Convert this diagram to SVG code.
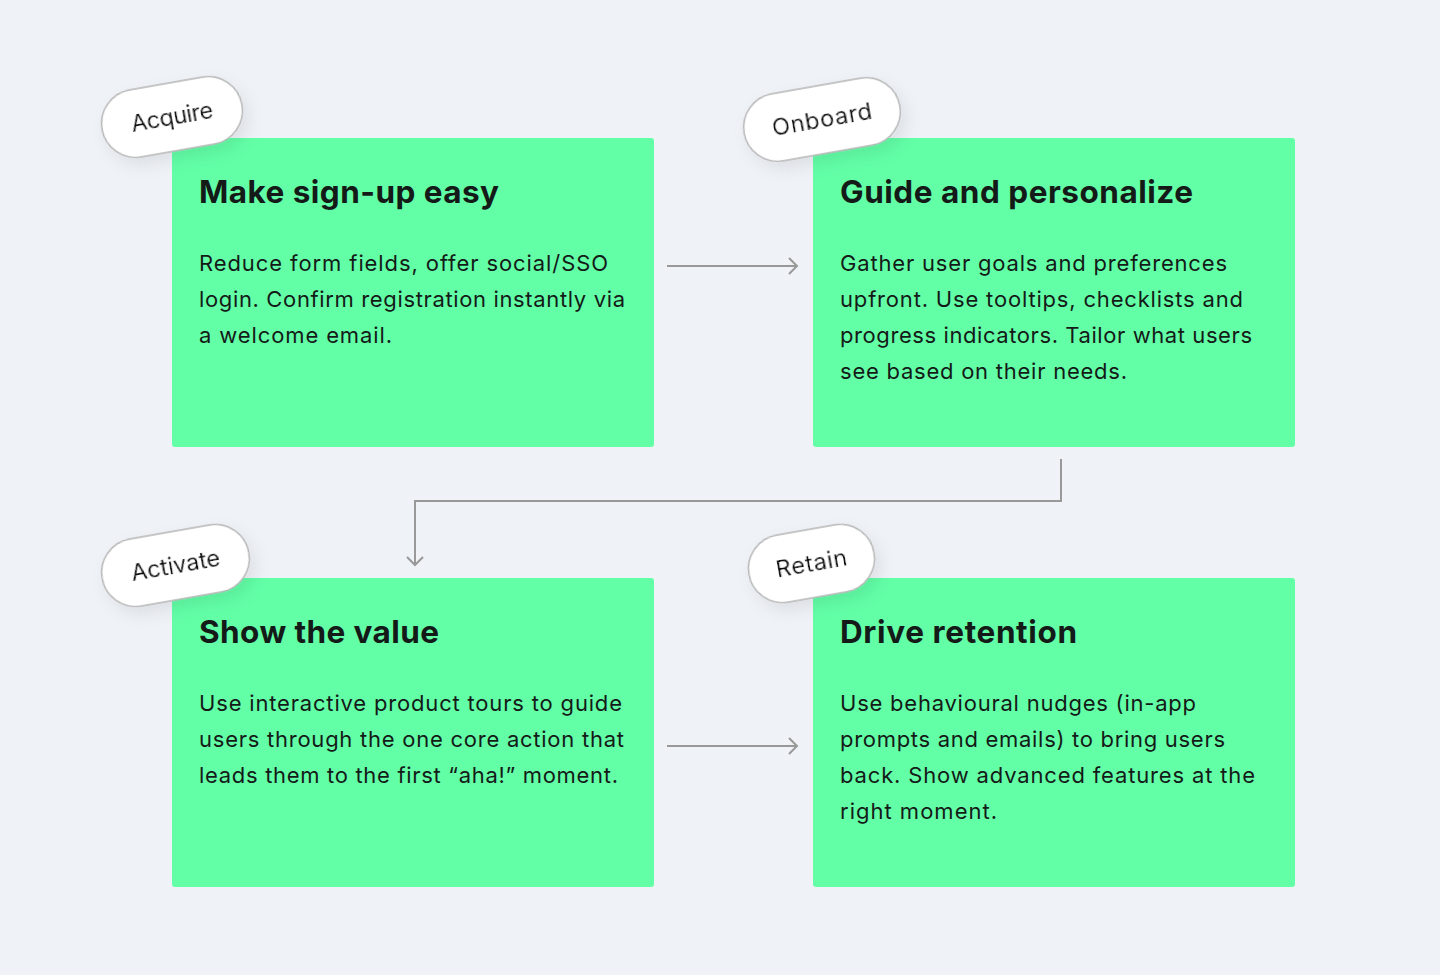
<svg xmlns="http://www.w3.org/2000/svg" width="1440" height="975" viewBox="0 0 1440 975">
<style>
.bg{fill:#EFF2F7}
.card{fill:#62FFA7}
.title{font-family:Inter,"Liberation Sans",sans-serif;font-weight:700;font-size:31.5px;fill:#141a17}
.body{font-family:Inter,"Liberation Sans",sans-serif;font-weight:400;font-size:22px;fill:#141a17}
.pill{fill:#ffffff;stroke:#b5b5b5;stroke-width:1.5}
.tag{font-family:Inter,"Liberation Sans",sans-serif;font-weight:400;font-size:23.5px;fill:#111;text-anchor:middle}
.conn{fill:none;stroke:#999999;stroke-width:2}
</style>
<defs>
<marker id="arr" viewBox="0 0 12 20" refX="10" refY="10" markerWidth="12" markerHeight="20" markerUnits="userSpaceOnUse" orient="auto">
<path d="M2,2 L10,10 L2,18" fill="none" stroke="#999999" stroke-width="2"/>
</marker>
<filter id="sh" x="-30%" y="-40%" width="160%" height="190%">
<feDropShadow dx="4" dy="8" stdDeviation="8" flood-color="#000" flood-opacity="0.08"/>
</filter>
</defs>
<rect class="bg" x="0" y="0" width="1440" height="975"/>

<g id="connectors">
<path class="conn" d="M667,266 H797" marker-end="url(#arr)"/>
<path class="conn" d="M1061,459 V501 H415 V565" marker-end="url(#arr)"/>
<path class="conn" d="M667,746 H797" marker-end="url(#arr)"/>
</g>

<g id="node-acquire">
<rect class="card" x="172" y="138" width="482" height="309" rx="3"/>
<text class="title" x="199" y="203" textLength="300" lengthAdjust="spacing">Make sign-up easy</text>
<text class="body" x="199" y="270.5" textLength="409" lengthAdjust="spacing">Reduce form fields, offer social/SSO</text>
<text class="body" x="199" y="306.5" textLength="426" lengthAdjust="spacing">login. Confirm registration instantly via</text>
<text class="body" x="199" y="342.5" textLength="193" lengthAdjust="spacing">a welcome email.</text>
<g transform="translate(172,117) rotate(-10)" filter="url(#sh)">
<rect class="pill" x="-71" y="-34" width="142" height="68" rx="34"/>
<text class="tag" x="0" y="8" textLength="83" lengthAdjust="spacing">Acquire</text>
</g>
</g>

<g id="node-onboard">
<rect class="card" x="813" y="138" width="482" height="309" rx="3"/>
<text class="title" x="840" y="203" textLength="353" lengthAdjust="spacing">Guide and personalize</text>
<text class="body" x="840" y="270.5" textLength="387" lengthAdjust="spacing">Gather user goals and preferences</text>
<text class="body" x="840" y="306.5" textLength="403" lengthAdjust="spacing">upfront. Use tooltips, checklists and</text>
<text class="body" x="840" y="342.5" textLength="412" lengthAdjust="spacing">progress indicators. Tailor what users</text>
<text class="body" x="840" y="378.5" textLength="287" lengthAdjust="spacing">see based on their needs.</text>
<g transform="translate(822,119.5) rotate(-10)" filter="url(#sh)">
<rect class="pill" x="-79" y="-34" width="158" height="68" rx="34"/>
<text class="tag" x="0" y="8" textLength="101" lengthAdjust="spacing">Onboard</text>
</g>
</g>

<g id="node-activate">
<rect class="card" x="172" y="578" width="482" height="309" rx="3"/>
<text class="title" x="199" y="643" textLength="240" lengthAdjust="spacing">Show the value</text>
<text class="body" x="199" y="710.5" textLength="423" lengthAdjust="spacing">Use interactive product tours to guide</text>
<text class="body" x="199" y="746.5" textLength="425" lengthAdjust="spacing">users through the one core action that</text>
<text class="body" x="199" y="782.5" textLength="419" lengthAdjust="spacing">leads them to the first “aha!” moment.</text>
<g transform="translate(175.5,565.5) rotate(-10)" filter="url(#sh)">
<rect class="pill" x="-74.5" y="-34" width="149" height="68" rx="34"/>
<text class="tag" x="0" y="8" textLength="90" lengthAdjust="spacing">Activate</text>
</g>
</g>

<g id="node-retain">
<rect class="card" x="813" y="578" width="482" height="309" rx="3"/>
<text class="title" x="840" y="643" textLength="237" lengthAdjust="spacing">Drive retention</text>
<text class="body" x="840" y="710.5" textLength="356" lengthAdjust="spacing">Use behavioural nudges (in-app</text>
<text class="body" x="840" y="746.5" textLength="385" lengthAdjust="spacing">prompts and emails) to bring users</text>
<text class="body" x="840" y="782.5" textLength="415" lengthAdjust="spacing">back. Show advanced features at the</text>
<text class="body" x="840" y="818.5" textLength="157" lengthAdjust="spacing">right moment.</text>
<g transform="translate(811.5,563.5) rotate(-10)" filter="url(#sh)">
<rect class="pill" x="-63.5" y="-34" width="127" height="68" rx="34"/>
<text class="tag" x="0" y="8" textLength="72" lengthAdjust="spacing">Retain</text>
</g>
</g>
</svg>
